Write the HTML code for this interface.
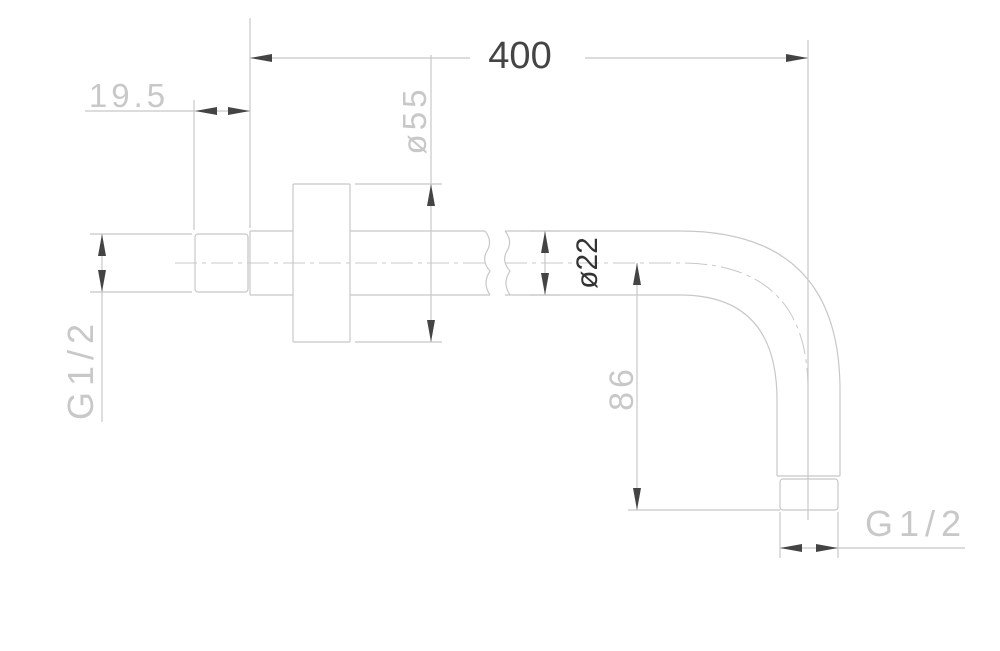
<!DOCTYPE html>
<html><head><meta charset="utf-8"><style>
html,body{margin:0;padding:0;background:#fff;width:1000px;height:651px;overflow:hidden}
svg{display:block}
text{font-family:"Liberation Sans",sans-serif}
</style></head><body>
<svg width="1000" height="651" viewBox="0 0 1000 651" xmlns="http://www.w3.org/2000/svg">
<g fill="none" stroke="#c8c8c8" stroke-width="1.2">
<line x1="250" y1="18" x2="250" y2="228"/>
<line x1="808" y1="40" x2="808" y2="520"/>
<line x1="250" y1="58" x2="470" y2="58"/>
<line x1="585" y1="58" x2="808" y2="58"/>
<line x1="194" y1="100" x2="194" y2="230"/>
<line x1="85" y1="111" x2="250" y2="111"/>
<rect x="195" y="234" width="53" height="58" rx="3"/>
<line x1="248" y1="237" x2="248" y2="289"/>
<line x1="250" y1="231" x2="293" y2="231"/>
<line x1="250" y1="295" x2="293" y2="295"/>
<line x1="250" y1="231" x2="250" y2="295"/>
<line x1="350" y1="231" x2="485" y2="231"/>
<line x1="350" y1="295" x2="490" y2="295"/>
<path d="M485,231 q8,10 2,20 q-6,10 3,20 q-8,12 0,24"/>
<path d="M505,231 q8,10 2,20 q-6,10 3,20 q-8,12 0,24"/>
<rect x="293" y="184" width="57" height="158" rx="1"/>
<line x1="355" y1="184" x2="442" y2="184"/>
<line x1="355" y1="342" x2="442" y2="342"/>
<line x1="431" y1="55" x2="431" y2="342"/>
<line x1="90" y1="234" x2="192" y2="234"/>
<line x1="90" y1="292" x2="192" y2="292"/>
<line x1="102" y1="234" x2="102" y2="422"/>
<path d="M505,231 L680,231 Q840,231 840,390 L840,476"/>
<path d="M505,295 L680,295 Q777,295 777,400 L777,476"/>
<line x1="777" y1="476" x2="840" y2="476"/>
<rect x="780" y="479" width="58" height="31" rx="3"/>
<line x1="530" y1="231" x2="560" y2="231"/>
<line x1="530" y1="295" x2="560" y2="295"/>
<line x1="545" y1="231" x2="545" y2="295"/>
<line x1="637" y1="263" x2="637" y2="510"/>
<line x1="628" y1="510" x2="780" y2="510"/>
<line x1="780" y1="512" x2="780" y2="558"/>
<line x1="838" y1="512" x2="838" y2="558"/>
<line x1="780" y1="548" x2="965" y2="548"/>
</g>
<g fill="none" stroke="#c8c8c8" stroke-width="1" stroke-dasharray="22,5,4,5">
<line x1="175" y1="263" x2="488" y2="263"/>
<path d="M505,263 L680,263 Q808,263 808,390 L808,515"/>
</g>
<g stroke="none" fill="#444">
<path d="M250,58 L272,54 L272,62 Z"/>
<path d="M808,58 L786,54 L786,62 Z"/>
<path d="M195,111 L217,107 L217,115 Z"/>
<path d="M250,111 L228,107 L228,115 Z"/>
<path d="M431,184 L427,206 L435,206 Z"/>
<path d="M431,342 L427,320 L435,320 Z"/>
<path d="M102,234 L98,256 L106,256 Z"/>
<path d="M102,292 L98,270 L106,270 Z"/>
<path d="M545,231 L541,253 L549,253 Z"/>
<path d="M545,295 L541,273 L549,273 Z"/>
<path d="M637,263 L633,285 L641,285 Z"/>
<path d="M637,510 L633,488 L641,488 Z"/>
<path d="M780,548 L802,544 L802,552 Z"/>
<path d="M838,548 L816,544 L816,552 Z"/>
</g>
<text x="520" y="68" font-size="38" fill="#444" text-anchor="middle">400</text>
<text x="129" y="107" font-size="33" fill="#c8c8c8" text-anchor="middle" letter-spacing="4">19.5</text>
<text transform="translate(426,120) rotate(-90)" font-size="33" fill="#c8c8c8" text-anchor="middle" letter-spacing="4">ø55</text>
<text transform="translate(597,263) rotate(-90)" font-size="30" fill="#333" text-anchor="middle">ø22</text>
<text transform="translate(633,388) rotate(-90)" font-size="34" fill="#c8c8c8" text-anchor="middle" letter-spacing="4">86</text>
<text transform="translate(93,369) rotate(-90)" font-size="36" fill="#c8c8c8" text-anchor="middle" letter-spacing="6">G1/2</text>
<text x="916" y="536" font-size="36" fill="#c8c8c8" text-anchor="middle" letter-spacing="6">G1/2</text>
</svg>
</body></html>
